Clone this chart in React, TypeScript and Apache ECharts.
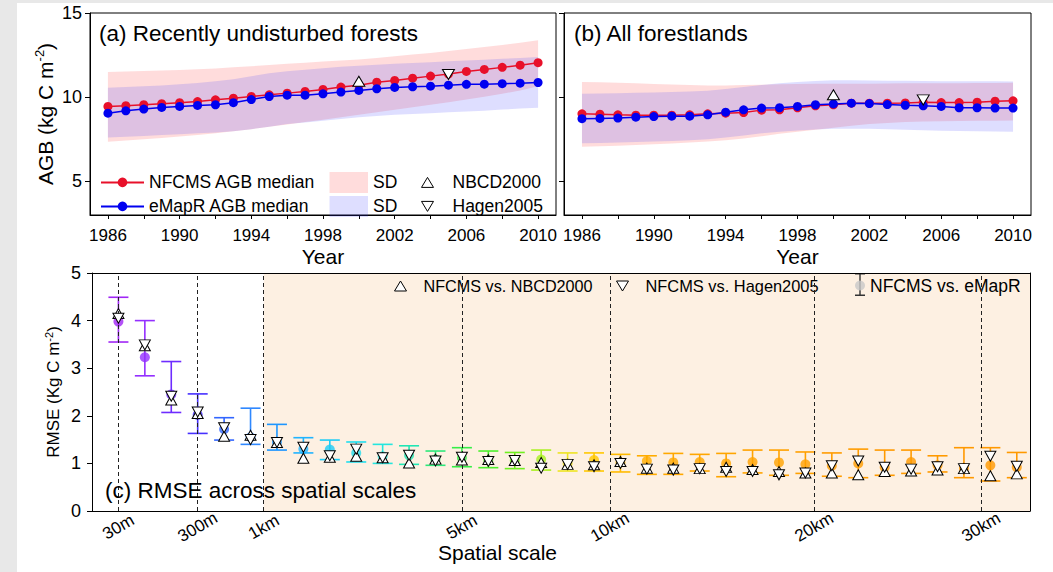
import React, { useEffect, useRef } from 'react';
import * as echarts from 'echarts';

// ---------------- DATA ----------------
const years = [1986, 1987, 1988, 1989, 1990, 1991, 1992, 1993, 1994, 1995, 1996, 1997, 1998, 1999, 2000, 2001, 2002, 2003, 2004, 2005, 2006, 2007, 2008, 2009, 2010];
const yearLabelTicks = [1986, 1990, 1994, 1998, 2002, 2006, 2010];
const yearTicks = [1986, 1988, 1990, 1992, 1994, 1996, 1998, 2000, 2002, 2004, 2006, 2008, 2010];
const agbTicks = [5, 10, 15];

// (a) Recently undisturbed forests
const nfcmsMedianA = [9.45, 9.49, 9.55, 9.61, 9.67, 9.74, 9.84, 9.94, 10.04, 10.14, 10.24, 10.34, 10.46, 10.6, 10.71, 10.89, 10.99, 11.13, 11.25, 11.37, 11.53, 11.65, 11.77, 11.9, 12.05];
const emaprMedianA = [9.05, 9.19, 9.29, 9.39, 9.45, 9.51, 9.55, 9.67, 9.86, 10.04, 10.12, 10.12, 10.2, 10.3, 10.4, 10.5, 10.58, 10.62, 10.65, 10.71, 10.76, 10.77, 10.8, 10.83, 10.87];
const nfcmsUpperA = [11.5, 11.52, 11.55, 11.58, 11.62, 11.66, 11.71, 11.77, 11.84, 11.91, 11.98, 12.05, 12.12, 12.18, 12.24, 12.33, 12.43, 12.53, 12.63, 12.74, 12.86, 12.98, 13.1, 13.24, 13.38];
const nfcmsLowerA = [7.35, 7.42, 7.5, 7.58, 7.66, 7.75, 7.85, 7.97, 8.1, 8.24, 8.38, 8.52, 8.66, 8.8, 8.95, 9.1, 9.25, 9.4, 9.55, 9.7, 9.86, 10.02, 10.2, 10.4, 10.65];
const emaprUpperA = [10.56, 10.6, 10.65, 10.7, 10.76, 10.84, 10.94, 11.07, 11.25, 11.42, 11.54, 11.63, 11.72, 11.8, 11.87, 11.93, 11.98, 12.03, 12.08, 12.13, 12.18, 12.23, 12.28, 12.33, 12.38];
const emaprLowerA = [7.6, 7.65, 7.7, 7.75, 7.8, 7.85, 7.9, 7.98, 8.1, 8.25, 8.4, 8.5, 8.6, 8.7, 8.8, 8.88, 8.95, 9.0, 9.05, 9.1, 9.15, 9.2, 9.26, 9.32, 9.37];
const nbcdA = [[2000, 10.95]];
const hagenA = [[2005, 11.35]];

// (b) All forestlands
const nfcmsMedianB = [9.01, 8.99, 8.95, 8.93, 8.93, 8.93, 8.95, 9.01, 9.05, 9.09, 9.23, 9.25, 9.37, 9.49, 9.55, 9.64, 9.64, 9.64, 9.66, 9.7, 9.68, 9.68, 9.7, 9.76, 9.78];
const emaprMedianB = [8.72, 8.74, 8.76, 8.81, 8.85, 8.87, 8.87, 8.95, 9.11, 9.25, 9.35, 9.37, 9.45, 9.55, 9.6, 9.64, 9.62, 9.56, 9.52, 9.49, 9.45, 9.37, 9.37, 9.35, 9.35];
const nfcmsUpperB = [10.9, 10.88, 10.85, 10.82, 10.78, 10.75, 10.72, 10.7, 10.7, 10.72, 10.74, 10.76, 10.78, 10.8, 10.8, 10.8, 10.8, 10.81, 10.82, 10.82, 10.83, 10.83, 10.84, 10.84, 10.85];
const nfcmsLowerB = [7.05, 7.08, 7.12, 7.16, 7.2, 7.25, 7.3, 7.36, 7.44, 7.55, 7.68, 7.82, 7.95, 8.06, 8.18, 8.3, 8.4, 8.47, 8.52, 8.55, 8.57, 8.58, 8.6, 8.6, 8.62];
const emaprUpperB = [10.2, 10.22, 10.24, 10.26, 10.28, 10.3, 10.33, 10.38, 10.48, 10.6, 10.72, 10.82, 10.9, 10.96, 11.0, 11.0, 10.99, 10.98, 10.97, 10.96, 10.95, 10.95, 10.94, 10.94, 10.93];
const emaprLowerB = [7.26, 7.28, 7.3, 7.33, 7.36, 7.4, 7.44, 7.5, 7.6, 7.72, 7.85, 7.95, 8.02, 8.08, 8.12, 8.13, 8.12, 8.1, 8.07, 8.04, 8.01, 7.99, 7.97, 7.96, 7.95];
const nbcdB = [[2000, 10.14]];
const hagenB = [[2005, 9.84]];

// (c) RMSE across spatial scales
const scaleIndex = [0, 1, 2, 3, 4, 5, 6, 7, 8, 9, 10, 11, 12, 13, 14, 15, 16, 17, 18, 19, 20, 21, 22, 23, 24, 25, 26, 27, 28, 29, 30, 31, 32, 33, 34];
const rmseLow = [3.55, 2.84, 2.07, 1.63, 1.49, 1.4, 1.28, 1.22, 1.08, 1.03, 1.0, 0.98, 0.96, 0.93, 0.91, 0.89, 0.86, 0.84, 0.84, 0.82, 0.77, 0.77, 0.84, 0.72, 0.8, 0.75, 0.79, 0.73, 0.7, 0.75, 0.79, 0.82, 0.7, 0.63, 0.7];
const rmseHigh = [4.49, 4.0, 3.14, 2.46, 1.96, 2.16, 1.82, 1.54, 1.49, 1.45, 1.4, 1.37, 1.26, 1.33, 1.26, 1.23, 1.28, 1.22, 1.22, 1.19, 1.16, 1.21, 1.19, 1.21, 1.28, 1.28, 1.24, 1.22, 1.3, 1.28, 1.28, 1.16, 1.33, 1.33, 1.23];
const rmseEmapr = [3.98, 3.23, 2.45, 2.02, 1.72, 1.55, 1.45, 1.3, 1.29, 1.22, 1.15, 1.17, 1.08, 1.12, 1.06, 1.06, 1.08, 1.0, 1.07, 1.02, 1.05, 1.02, 1.03, 1.0, 1.03, 1.02, 0.98, 0.95, 1.0, 0.92, 1.03, 0.96, 0.9, 0.96, 0.92];
const rmseNbcd = [4.15, 3.47, 2.33, 2.05, 1.57, 1.59, 1.44, 1.11, 1.13, 1.15, 1.12, 1.01, 1.09, 1.07, 1.08, 1.06, 1.02, 0.98, 0.97, 1.04, 0.9, 0.9, 0.89, 0.92, 0.87, 0.83, 0.8, 0.8, 0.76, 0.83, 0.84, 0.86, 0.89, 0.74, 0.78];
const rmseHagen = [4.05, 3.49, 2.41, 2.08, 1.75, 1.5, 1.44, 1.34, 1.16, 1.3, 1.12, 1.17, 1.05, 1.13, 1.04, 1.06, 0.9, 0.98, 0.93, 1.0, 0.88, 0.86, 0.89, 0.83, 0.83, 0.76, 0.8, 0.95, 1.05, 0.92, 0.88, 0.93, 0.89, 1.15, 0.94];
const scaleTickPos = [0, 3, 5.5, 13, 18.6, 26.33, 32.65];
const scaleTickLabels = ['30m', '300m', '1km', '5km', '10km', '20km', '30km'];
const rmseTicks = [0, 1, 2, 3, 4, 5];

// ---------------- STYLES ----------------
const pointColors = [
  '#A026F5', '#9430FF', '#6E2CFF', '#4630FF', '#3266FF', '#2F88FF', '#1E96FF', '#20B4FF', '#1ECCF6', '#20DDEE',
  '#24E6DE', '#20E6B4', '#2CE87A', '#36EE48', '#4CF02C', '#70F020', '#A8F020', '#EEE422', '#FFC800', '#FFBA00',
  '#FFAC00', '#FFA800', '#FFA600', '#FFA500', '#FFA300', '#FFA200', '#FFA000', '#FF9C00', '#FF9C00', '#FF9A00',
  '#FF9A00', '#FF9A00', '#FF9900', '#FF9900', '#FF9900',
];
const FONT = "'Liberation Sans', Arial, Helvetica, sans-serif";
const RED = '#E8102A';
const BLUE = '#0000F0';
const RED_FILL = 'rgba(255, 40, 40, 0.16)';
const BLUE_FILL = 'rgba(60, 60, 255, 0.17)';
const UP = 'path://M6,0L12,10L0,10Z';
const DOWN = 'path://M0,0L12,0L6,10Z';
const ERRBAR_ICON = 'path://M0,0H10V1.5H0Z M4.3,0H5.7V23H4.3Z M0,21.5H10V23H0Z';
const SHADE = '#FDF0E2';

function bandSeries(name: string, idx: number, lower: number[], upper: number[], fill: string, z: number) {
  return {
    type: 'custom',
    name,
    xAxisIndex: idx,
    yAxisIndex: idx,
    z,
    silent: true,
    data: years.map((y, i) => [y, lower[i], upper[i]]),
    encode: { x: 0, y: [1, 2] },
    renderItem: (params: any, api: any) => {
      if (params.dataIndex !== 0) return { type: 'group', children: [] };
      const pts: number[][] = [];
      for (let i = 0; i < years.length; i++) pts.push(api.coord([years[i], upper[i]]));
      for (let i = years.length - 1; i >= 0; i--) pts.push(api.coord([years[i], lower[i]]));
      return { type: 'polygon', shape: { points: pts }, style: { fill } };
    },
  };
}

function lineSeries(name: string, idx: number, vals: number[], color: string) {
  return {
    type: 'line',
    name,
    xAxisIndex: idx,
    yAxisIndex: idx,
    z: 3,
    silent: true,
    data: years.map((y, i) => [y, vals[i]]),
    symbol: 'circle',
    symbolSize: 9,
    showSymbol: true,
    lineStyle: { color, width: 1.5 },
    itemStyle: { color },
  };
}

function triSeries(name: string, idx: number, data: number[][], symbol: string, size: number[]) {
  return {
    type: 'scatter',
    name,
    xAxisIndex: idx,
    yAxisIndex: idx,
    z: 4,
    silent: true,
    data,
    symbol,
    symbolSize: size,
    itemStyle: { color: '#fff', borderColor: '#000', borderWidth: 1, opacity: 1 },
  };
}

const axisLineStyle = { show: true, onZero: false, lineStyle: { color: '#000', width: 1 } };

function yearAxis(gridIndex: number) {
  return {
    type: 'value',
    gridIndex,
    min: 1985,
    max: 2011,
    name: 'Year',
    nameLocation: 'middle',
    nameGap: 31,
    nameMoveOverlap: false,
    nameTextStyle: { fontSize: 21, lineHeight: 21, color: '#000', fontFamily: FONT },
    axisLine: axisLineStyle,
    axisTick: { show: true, inside: false, length: 4, customValues: yearTicks, lineStyle: { color: '#000' } },
    axisLabel: {
      show: true, customValues: yearLabelTicks, margin: 12, fontSize: 17, lineHeight: 17, color: '#000', fontFamily: FONT,
      formatter: (v: number) => String(v),
    },
    splitLine: { show: false },
  };
}

function agbAxis(gridIndex: number, showLabels: boolean) {
  return {
    type: 'value',
    gridIndex,
    min: 3,
    max: 15,
    name: showLabels ? '{t|AGB (kg C m}{s|-2}{t|)}' : '',
    nameLocation: 'middle',
    nameGap: 33,
    nameRotate: 90,
    nameMoveOverlap: false,
    nameTextStyle: {
      color: '#000',
      rich: {
        t: { fontSize: 21, lineHeight: 24, fontFamily: FONT, color: '#000' },
        s: { fontSize: 13, lineHeight: 12, verticalAlign: 'top', fontFamily: FONT, color: '#000' },
      },
    },
    axisLine: axisLineStyle,
    axisTick: { show: true, inside: false, length: 5, customValues: agbTicks, lineStyle: { color: '#000' } },
    axisLabel: { show: showLabels, customValues: agbTicks, margin: 8, fontSize: 18, color: '#000', fontFamily: FONT },
    splitLine: { show: false },
  };
}

const hollow = { color: '#fff', borderColor: '#000', borderWidth: 1 };

function buildOption(): any {
  return {
    animation: false,
    backgroundColor: '#fff',
    textStyle: { fontFamily: FONT, color: '#000' },
    grid: [
      { left: 90, top: 13, width: 466, height: 202, show: true, borderColor: '#000', borderWidth: 1, backgroundColor: 'transparent', outerBoundsMode: 'none' },
      { left: 564, top: 13, width: 467, height: 202, show: true, borderColor: '#000', borderWidth: 1, backgroundColor: 'transparent', outerBoundsMode: 'none' },
      { left: 92, top: 273, width: 938, height: 238, show: false, outerBoundsMode: 'none' },
    ],
    xAxis: [
      yearAxis(0),
      yearAxis(1),
      {
        type: 'value',
        gridIndex: 2,
        min: -1,
        max: 34.5,
        z: 10,
        name: 'Spatial scale',
        nameLocation: 'middle',
        nameGap: 31,
        nameMoveOverlap: false,
        nameTextStyle: { fontSize: 21, lineHeight: 21, color: '#000', fontFamily: FONT, padding: [0, 127, 0, 0] },
        axisLine: axisLineStyle,
        axisTick: { show: false },
        axisLabel: {
          show: true,
          customValues: scaleTickPos,
          rotate: 30,
          align: 'center',
          verticalAlign: 'middle',
          margin: 16,
          fontSize: 17,
          color: '#000',
          fontFamily: FONT,
          formatter: (v: number) => {
            const k = scaleTickPos.findIndex((p) => Math.abs(p - v) < 1e-6);
            return k >= 0 ? scaleTickLabels[k] : '';
          },
        },
        splitLine: { show: false },
      },
      {
        type: 'value',
        gridIndex: 2,
        position: 'top',
        min: -1,
        max: 34.5,
        z: 10,
        axisLine: axisLineStyle,
        axisTick: { show: false },
        axisLabel: { show: false },
        splitLine: { show: false },
      },
    ],
    yAxis: [
      agbAxis(0, true),
      agbAxis(1, false),
      {
        type: 'value',
        gridIndex: 2,
        min: 0,
        max: 5,
        interval: 1,
        z: 10,
        name: '{t|RMSE (Kg C m}{s|-2}{t|)}',
        nameLocation: 'middle',
        nameGap: 29,
        nameRotate: 90,
        nameMoveOverlap: false,
        nameTextStyle: {
          color: '#000',
          rich: {
            t: { fontSize: 17, lineHeight: 20, fontFamily: FONT, color: '#000' },
            s: { fontSize: 11, lineHeight: 10, verticalAlign: 'top', fontFamily: FONT, color: '#000' },
          },
        },
        axisLine: axisLineStyle,
        axisTick: { show: true, inside: false, length: 5, lineStyle: { color: '#000' } },
        axisLabel: { show: true, customValues: rmseTicks, margin: 11, fontSize: 18, color: '#000', fontFamily: FONT },
        splitLine: { show: false },
      },
      {
        type: 'value',
        gridIndex: 2,
        position: 'right',
        min: 0,
        max: 5,
        interval: 1,
        z: 10,
        axisLine: axisLineStyle,
        axisTick: { show: false },
        axisLabel: { show: false },
        splitLine: { show: false },
      },
    ],
    legend: [
      {
        left: 100, top: 172.4, orient: 'vertical', padding: 0, itemWidth: 43, itemHeight: 12, itemGap: 4,
        selectedMode: false,
        textStyle: { fontSize: 17.5, lineHeight: 20, color: '#000', fontFamily: FONT },
        data: ['NFCMS AGB median', 'eMapR AGB median'],
      },
      {
        left: 329.5, top: 171.9, orient: 'vertical', padding: 0, itemWidth: 38.5, itemHeight: 21, itemGap: 3,
        selectedMode: false,
        textStyle: { fontSize: 17.5, lineHeight: 20, color: '#000', fontFamily: FONT },
        data: [
          { name: 'SD', icon: 'rect', itemStyle: { color: RED_FILL, borderWidth: 0 } },
          { name: 'SD ', icon: 'rect', itemStyle: { color: BLUE_FILL, borderWidth: 0 } },
        ],
      },
      {
        left: 421, top: 172.4, orient: 'vertical', padding: 0, itemWidth: 40, itemHeight: 10, itemGap: 4,
        selectedMode: false,
        textStyle: { fontSize: 17.5, lineHeight: 20, color: '#000', fontFamily: FONT },
        data: [
          { name: 'NBCD2000', icon: UP, itemStyle: hollow },
          { name: 'Hagen2005', icon: DOWN, itemStyle: hollow },
        ],
      },
      {
        left: 394, top: 277, orient: 'horizontal', padding: 0, itemWidth: 36, itemHeight: 10,
        selectedMode: false,
        textStyle: { fontSize: 16.2, lineHeight: 18, color: '#000', fontFamily: FONT },
        data: [{ name: 'NFCMS vs. NBCD2000', icon: UP, itemStyle: hollow }],
      },
      {
        left: 616, top: 277, orient: 'horizontal', padding: 0, itemWidth: 36, itemHeight: 10,
        selectedMode: false,
        textStyle: { fontSize: 16.4, lineHeight: 18, color: '#000', fontFamily: FONT },
        data: [{ name: 'NFCMS vs. Hagen2005', icon: DOWN, itemStyle: hollow }],
      },
      {
        left: 855, top: 273, orient: 'horizontal', padding: 0, itemWidth: 10, itemHeight: 23,
        selectedMode: false,
        formatter: () => '',
        textStyle: { fontSize: 16, lineHeight: 18, color: '#000', fontFamily: FONT },
        data: [{ name: 'eMapR error', icon: ERRBAR_ICON, itemStyle: { color: '#333', borderWidth: 0 } }],
      },
      {
        left: 855, top: 275.5, orient: 'horizontal', padding: 0, itemWidth: 10, itemHeight: 10,
        selectedMode: false,
        textStyle: { fontSize: 17.5, lineHeight: 20, color: '#000', fontFamily: FONT },
        data: [{ name: 'NFCMS vs. eMapR', icon: 'circle', itemStyle: { color: '#C8C8C8', borderWidth: 0 } }],
      },
    ],
    graphic: [
      { type: 'rect', x: 0, y: 0, shape: { width: 17, height: 572 }, style: { fill: '#E8E8E8' }, silent: true, z: 0 },
      { type: 'rect', x: 0, y: 0, shape: { width: 1053, height: 3 }, style: { fill: '#E8E8E8' }, silent: true, z: 0 },
      { type: 'text', x: 99, y: 33, style: { text: '(a) Recently undisturbed forests', fontSize: 22.5, fontFamily: FONT, fill: '#000', verticalAlign: 'middle' }, silent: true, z: 20 },
      { type: 'text', x: 574, y: 33, style: { text: '(b) All forestlands', fontSize: 22.5, fontFamily: FONT, fill: '#000', verticalAlign: 'middle' }, silent: true, z: 20 },
      { type: 'text', x: 105, y: 490, style: { text: '(c) RMSE across spatial scales', fontSize: 22.5, fontFamily: FONT, fill: '#000', verticalAlign: 'middle' }, silent: true, z: 20 },
    ],
    series: [
      bandSeries('SD', 0, nfcmsLowerA, nfcmsUpperA, RED_FILL, 1),
      bandSeries('SD ', 0, emaprLowerA, emaprUpperA, BLUE_FILL, 1),
      lineSeries('NFCMS AGB median', 0, nfcmsMedianA, RED),
      lineSeries('eMapR AGB median', 0, emaprMedianA, BLUE),
      triSeries('NBCD2000', 0, nbcdA, UP, [12, 10]),
      triSeries('Hagen2005', 0, hagenA, DOWN, [12, 10]),

      bandSeries('SD', 1, nfcmsLowerB, nfcmsUpperB, RED_FILL, 1),
      bandSeries('SD ', 1, emaprLowerB, emaprUpperB, BLUE_FILL, 1),
      lineSeries('NFCMS AGB median', 1, nfcmsMedianB, RED),
      lineSeries('eMapR AGB median', 1, emaprMedianB, BLUE),
      triSeries('NBCD2000', 1, nbcdB, UP, [12, 10]),
      triSeries('Hagen2005', 1, hagenB, DOWN, [12, 10]),

      // shaded region for >= 1 km
      {
        type: 'line', name: 'shade', xAxisIndex: 2, yAxisIndex: 2, z: 0, silent: true, data: [],
        markArea: { silent: true, itemStyle: { color: SHADE }, data: [[{ xAxis: 5.5 }, { xAxis: 34.5 }]] },
      },
      // dashed scale separators
      {
        type: 'line', name: 'guides', xAxisIndex: 2, yAxisIndex: 2, z: 1, silent: true, data: [],
        markLine: {
          silent: true, symbol: ['none', 'none'], label: { show: false },
          lineStyle: { color: '#222', width: 1, type: [4, 3] },
          data: scaleTickPos.map((p) => ({ xAxis: p })),
        },
      },
      {
        type: 'custom',
        name: 'eMapR error',
        xAxisIndex: 2,
        yAxisIndex: 2,
        z: 2,
        silent: true,
        data: scaleIndex.map((x, i) => [x, rmseLow[i], rmseHigh[i]]),
        encode: { x: 0, y: [1, 2] },
        renderItem: (params: any, api: any) => {
          const x = api.value(0);
          const a = api.coord([x, api.value(2)]);
          const b = api.coord([x, api.value(1)]);
          const w = 10;
          const st = { stroke: pointColors[params.dataIndex], lineWidth: 1.6 };
          return {
            type: 'group',
            children: [
              { type: 'line', shape: { x1: a[0], y1: a[1], x2: b[0], y2: b[1] }, style: st },
              { type: 'line', shape: { x1: a[0] - w, y1: a[1], x2: a[0] + w, y2: a[1] }, style: st },
              { type: 'line', shape: { x1: b[0] - w, y1: b[1], x2: b[0] + w, y2: b[1] }, style: st },
            ],
          };
        },
      },
      {
        type: 'scatter',
        name: 'NFCMS vs. eMapR',
        xAxisIndex: 2,
        yAxisIndex: 2,
        z: 3,
        silent: true,
        symbol: 'circle',
        symbolSize: 10,
        data: scaleIndex.map((x, i) => ({ value: [x, rmseEmapr[i]], itemStyle: { color: pointColors[i] } })),
      },
      {
        type: 'scatter',
        name: 'NFCMS vs. NBCD2000',
        xAxisIndex: 2,
        yAxisIndex: 2,
        z: 4,
        silent: true,
        symbol: UP,
        symbolSize: [11, 10],
        itemStyle: { color: '#fff', borderColor: '#000', borderWidth: 1, opacity: 1 },
        data: scaleIndex.map((x, i) => [x, rmseNbcd[i]]),
      },
      {
        type: 'scatter',
        name: 'NFCMS vs. Hagen2005',
        xAxisIndex: 2,
        yAxisIndex: 2,
        z: 5,
        silent: true,
        symbol: DOWN,
        symbolSize: [11, 10],
        itemStyle: { color: '#fff', borderColor: '#000', borderWidth: 1, opacity: 1 },
        data: scaleIndex.map((x, i) => [x, rmseHagen[i]]),
      },
    ],
  };
}

export default function App() {
  const ref = useRef<HTMLDivElement>(null);
  useEffect(() => {
    if (!ref.current) return;
    const chart = echarts.init(ref.current, null, { renderer: 'svg' });
    chart.setOption(buildOption());
    return () => chart.dispose();
  }, []);
  return (
    <div
      ref={ref}
      style={{ position: 'fixed', left: 0, top: 0, width: 1053, height: 572, background: '#fff' }}
    />
  );
}
